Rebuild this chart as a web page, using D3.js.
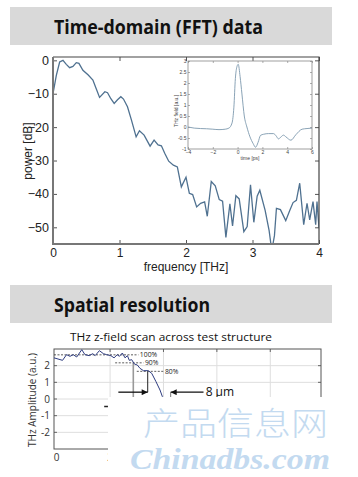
<!DOCTYPE html>
<html><head><meta charset="utf-8">
<script src="https://cdn.jsdelivr.net/npm/d3@7"></script>
<style>
html,body{margin:0;padding:0;background:#fff;}
svg{display:block;}
</style></head>
<body>
<svg id="c" width="358" height="477"></svg>
<script>
// ---------- data ----------
const titleTop = "Time-domain (FFT) data";
const titleBottom = "Spatial resolution";
const scanTitle = "THz z-field scan across test structure";

const fftFreq = [0,0.05,0.1,0.15,0.2,0.25,0.3,0.35,0.39,0.45,0.53,0.6,0.65,0.7,0.78,0.82,0.87,0.92,0.97,1.02,1.06,1.12,1.18,1.25,1.3,1.37,1.46,1.52,1.58,1.63,1.68,1.74,1.81,1.87,1.93,2.0,2.05,2.1,2.16,2.22,2.28,2.32,2.38,2.44,2.5,2.55,2.6,2.66,2.7,2.75,2.8,2.87,2.92,2.97,3.02,3.07,3.11,3.19,3.25,3.29,3.33,3.36,3.42,3.5,3.56,3.61,3.66,3.71,3.77,3.82,3.86,3.91,3.95,3.97,4.0];
const fftPower = [-10,-4.5,-0.5,0,-1.2,-2.2,-1.8,-0.7,-0.9,-3,-4.4,-5.9,-8.5,-11.1,-9.4,-9.7,-11.5,-12.9,-11.8,-10.9,-11.6,-13.9,-17.9,-22.9,-21.1,-22.4,-25.7,-23.9,-25.3,-25.6,-27.8,-30.2,-31.4,-31.9,-37.9,-35,-39.8,-40.2,-43.9,-42.8,-42.4,-46.7,-36.3,-37.6,-41.7,-42.2,-53,-43,-49.6,-40.5,-41.5,-51.3,-49.8,-37.3,-48.5,-40.7,-38.9,-44.9,-51,-57,-52.5,-44.3,-44.7,-48,-45,-42.6,-41.9,-36.8,-49.2,-42.8,-47.8,-42.3,-49.2,-42.3,-50.2];
const fftXTicks = [0,1,2,3,4];
const fftYTicks = [0,-10,-20,-30,-40,-50];

const pulseTime = [-4,-3.5,-3,-2.5,-2,-1.5,-1,-0.7,-0.45,-0.3,-0.18,-0.05,0.05,0.2,0.35,0.54,0.75,1.0,1.25,1.45,1.65,1.85,2.1,2.5,2.9,3.1,3.3,3.5,3.7,3.9,4.3,4.7,5.2,5.6,6];
const pulseField = [0,-0.05,-0.07,-0.08,-0.1,-0.12,-0.1,-0.05,0.18,0.9,2.2,2.75,2.85,2.3,1.5,0.5,0,-0.45,-0.75,-0.92,-0.7,-0.38,-0.33,-0.3,-0.3,-0.4,-0.54,-0.45,-0.37,-0.45,-0.6,-0.35,-0.1,-0.07,-0.05];
const insetXTicks = [-4,-2,0,2,4,6];
const insetYTicks = [-1,-0.5,0,0.5,1,1.5,2,2.5,3];

const scanPos = [-0.1,0.22,0.37,0.5,0.62,0.75,0.94,1.06,1.22,1.35,1.44,1.6,1.75,1.87,2.03,2.15,2.27,2.35,2.46,2.56,2.65,2.72,2.81,2.91,3.02,3.12,3.25,3.43,3.56,3.72,3.87,3.96,4.05];
const scanAmp = [2.47,2.32,2.66,2.56,2.66,2.52,2.96,2.66,2.6,2.72,2.6,2.9,2.72,2.66,2.6,2.47,2.66,2.56,2.76,2.47,2.6,2.32,2.36,2.1,2.04,1.84,1.7,1.7,1.54,1.04,0.54,0.14,-0.3];
const scanGridX = [2,4,6,8];
const scanXLabels = [0,2];
const scanYTicks = [-2,-1,0,1,2];
const levelLabels = ["100%","90%","80%"];
const levelValues = [2.65,2.17,1.66];
const levelFrom = [-0.1,2.19,3.0];
const levelTo = [3.06,3.25,4.0];
const widthLabel = "8 µm";
const watermarkCn = "产品信息网";
const watermarkEn = "Chinadbs.com";

// ---------- drawing ----------
const svg = d3.select("#c");
svg.append("defs").html(`
  <marker id="ah" viewBox="0 0 10 10" refX="10" refY="5" markerWidth="8" markerHeight="6" markerUnits="userSpaceOnUse" orient="auto">
    <path d="M0,0 L10,5 L0,10 z" fill="#111"/></marker>
  <clipPath id="mainClip"><rect x="53" y="57" width="266" height="187"/></clipPath>
  <clipPath id="insetClip"><rect x="188" y="61" width="124" height="88"/></clipPath>
  <clipPath id="scanClip"><rect x="54" y="349" width="267" height="100"/></clipPath>`);

function banner(y, h, text, tl) {
  svg.append("rect").attr("x",10).attr("y",y).attr("width",322).attr("height",h).attr("fill","#d9d9d9");
  svg.append("text").attr("x",54).attr("y",y+26.5).text(text)
    .attr("font-family","'Open Sans', sans-serif").attr("font-weight","bold").attr("font-size",19)
    .attr("fill","#111").attr("textLength",tl).attr("lengthAdjust","spacingAndGlyphs");
}
banner(7, 38, titleTop, 209);
banner(285, 38, titleBottom, 156);

// ---- main FFT chart ----
const x = d3.scaleLinear([0,4],[53,319]);
const y = d3.scaleLinear([-55,1],[244,57]);
const axFont = "'Liberation Sans', Arial, sans-serif";
const g = svg.append("g");

function styleAxis(sel, fs) {
  sel.select(".domain").remove();
  sel.selectAll(".tick line").attr("stroke","#555").attr("stroke-width",1);
  sel.selectAll("text").attr("font-family",axFont).attr("font-size",fs).attr("fill","#222");
}
g.append("g").attr("transform","translate(0,244)")
  .call(d3.axisBottom(x).tickValues(fftXTicks).tickSize(-4).tickPadding(4).tickFormat(d3.format("d")))
  .call(s=>styleAxis(s,12));
g.append("g").attr("transform","translate(53,0)")
  .call(d3.axisLeft(y).tickValues(fftYTicks).tickSize(-4).tickPadding(4).tickFormat(d3.format("d")))
  .call(s=>styleAxis(s,12.5));
g.append("g").attr("transform","translate(0,57)")
  .call(d3.axisTop(x).tickValues(fftXTicks).tickSize(-4).tickFormat(""))
  .call(s=>styleAxis(s,12));
g.append("g").attr("transform","translate(319,0)")
  .call(d3.axisRight(y).tickValues(fftYTicks).tickSize(-4).tickFormat(""))
  .call(s=>styleAxis(s,12));

const fftLine = d3.line().x((d,i)=>x(fftFreq[i])).y((d,i)=>y(fftPower[i]));
g.append("path").datum(fftPower).attr("d",fftLine).attr("fill","none")
  .attr("stroke","#4f7190").attr("stroke-width",1.3).attr("clip-path","url(#mainClip)");

// frame
g.append("path").attr("d",`M53,57 H319 V244`).attr("fill","none").attr("stroke","#444").attr("stroke-width",1.2);
g.append("path").attr("d",`M53,57 V244 H319`).attr("fill","none").attr("stroke","#777").attr("stroke-width",2);

g.append("text").attr("x",186).attr("y",270.5).attr("text-anchor","middle").text("frequency [THz]")
  .attr("font-family",axFont).attr("font-size",12).attr("fill","#222");
g.append("text").attr("transform","translate(32,151) rotate(-90)").attr("text-anchor","middle").text("power [dB]")
  .attr("font-family",axFont).attr("font-size",12).attr("fill","#222");

// ---- inset ----
const xi = d3.scaleLinear([-4,6],[188,312]);
const yi = d3.scaleLinear([-1,3],[149,61]);
const gi = svg.append("g");
gi.append("rect").attr("x",188).attr("y",61).attr("width",124).attr("height",88).attr("fill","#fff");
function styleInset(sel) {
  sel.select(".domain").remove();
  sel.selectAll(".tick line").attr("stroke","#777").attr("stroke-width",0.6);
  sel.selectAll("text").attr("font-family",axFont).attr("font-size",5).attr("fill","#444");
}
gi.append("g").attr("transform","translate(0,149)")
  .call(d3.axisBottom(xi).tickValues(insetXTicks).tickSize(-2).tickPadding(1.5).tickFormat(d3.format("d"))).call(styleInset);
gi.append("g").attr("transform","translate(188,0)")
  .call(d3.axisLeft(yi).tickValues(insetYTicks).tickSize(-2).tickPadding(1.5).tickFormat(d=>d)).call(styleInset);
gi.append("g").attr("transform","translate(0,61)")
  .call(d3.axisTop(xi).tickValues(insetXTicks).tickSize(-2).tickFormat("")).call(styleInset);
gi.append("g").attr("transform","translate(312,0)")
  .call(d3.axisRight(yi).tickValues(insetYTicks).tickSize(-2).tickFormat("")).call(styleInset);
const pulseLine = d3.line().curve(d3.curveMonotoneX).x((d,i)=>xi(pulseTime[i])).y((d,i)=>yi(pulseField[i]));
gi.append("path").datum(pulseField).attr("d",pulseLine).attr("fill","none")
  .attr("stroke","#7d98ae").attr("stroke-width",0.9).attr("clip-path","url(#insetClip)");
gi.append("rect").attr("x",188).attr("y",61).attr("width",124).attr("height",88).attr("fill","none")
  .attr("stroke","#888").attr("stroke-width",0.8);
gi.append("text").attr("x",250).attr("y",160).attr("text-anchor","middle").text("time [ps]")
  .attr("font-family",axFont).attr("font-size",5).attr("fill","#444");
gi.append("text").attr("transform","translate(178,111) rotate(-90)").attr("text-anchor","middle").text("THz field [a.u.]")
  .attr("font-family",axFont).attr("font-size",5).attr("fill","#444");

// ---- spatial resolution chart ----
svg.append("text").attr("x",70).attr("y",340.5).text(scanTitle)
  .attr("font-family","'Open Sans', sans-serif").attr("font-size",11.5).attr("fill","#111")
  .attr("textLength",202).attr("lengthAdjust","spacingAndGlyphs");

const xs = d3.scaleLinear([-0.1,9.9],[54,321]);
const ys = d3.scaleLinear([-3,3],[449,349]);
const gs = svg.append("g");
gs.selectAll(".vg").data(scanGridX).join("line")
  .attr("x1",d=>xs(d)).attr("x2",d=>xs(d)).attr("y1",349).attr("y2",449).attr("stroke","#dedede").attr("stroke-width",1);
gs.selectAll(".hg").data(scanYTicks).join("line")
  .attr("x1",54).attr("x2",321).attr("y1",d=>ys(d)).attr("y2",d=>ys(d)).attr("stroke","#dedede").attr("stroke-width",1);
// ticks
gs.selectAll(".rt").data(scanYTicks).join("line")
  .attr("x1",318).attr("x2",321).attr("y1",d=>ys(d)).attr("y2",d=>ys(d)).attr("stroke","#666");
gs.selectAll(".lt").data(scanYTicks).join("line")
  .attr("x1",54).attr("x2",57).attr("y1",d=>ys(d)).attr("y2",d=>ys(d)).attr("stroke","#666");
gs.selectAll(".tt").data(scanGridX).join("line")
  .attr("x1",d=>xs(d)).attr("x2",d=>xs(d)).attr("y1",349).attr("y2",352).attr("stroke","#666");
gs.append("rect").attr("x",54).attr("y",349).attr("width",267).attr("height",100)
  .attr("fill","none").attr("stroke","#555").attr("stroke-width",1);
gs.selectAll(".yl").data(scanYTicks).join("text")
  .attr("x",50).attr("y",d=>ys(d)+3.5).attr("text-anchor","end").text(d=>d)
  .attr("font-family","'Open Sans', sans-serif").attr("font-size",10).attr("fill","#333");
gs.selectAll(".xl").data(scanXLabels).join("text")
  .attr("x",d=>xs(d)).attr("y",461).attr("text-anchor","middle").text(d=>d)
  .attr("font-family","'Open Sans', sans-serif").attr("font-size",10).attr("fill","#333");
gs.append("text").attr("transform","translate(36,400) rotate(-90)").attr("text-anchor","middle")
  .text("THz Amplitude (a.u.)").attr("font-family","'Open Sans', sans-serif").attr("font-size",10).attr("fill","#333");

// level lines
levelValues.forEach((v,i)=>{
  gs.append("line").attr("x1",xs(levelFrom[i])).attr("x2",xs(levelTo[i])).attr("y1",ys(v)).attr("y2",ys(v))
    .attr("stroke","#333").attr("stroke-width",0.8).attr("stroke-dasharray","2,1.5");
  gs.append("text").attr("x",xs(levelTo[i])+1.5).attr("y",ys(v)+2.4).text(levelLabels[i])
    .attr("font-family","'Open Sans', sans-serif").attr("font-size",6.8).attr("fill","#222");
});
// verticals
gs.append("line").attr("x1",xs(2.87)).attr("x2",xs(2.87)).attr("y1",ys(levelValues[1])).attr("y2",ys(-0.5))
  .attr("stroke","#999").attr("stroke-width",1.6);
gs.append("line").attr("x1",xs(3.41)).attr("x2",xs(3.41)).attr("y1",ys(levelValues[2])).attr("y2",ys(0.41))
  .attr("stroke","#222").attr("stroke-width",1);

const scanLine = d3.line().x((d,i)=>xs(scanPos[i])).y((d,i)=>ys(scanAmp[i]));
gs.append("path").datum(scanAmp).attr("d",scanLine).attr("fill","none")
  .attr("stroke","#2e3c80").attr("stroke-width",1).attr("clip-path","url(#scanClip)");

// arrows
gs.append("line").attr("x1",xs(2.31)).attr("x2",xs(3.41)).attr("y1",ys(0.41)).attr("y2",ys(0.41))
  .attr("stroke","#111").attr("stroke-width",1.3).attr("marker-end","url(#ah)");
gs.append("line").attr("x1",xs(5.5)).attr("x2",xs(4.27)).attr("y1",ys(0.41)).attr("y2",ys(0.41))
  .attr("stroke","#111").attr("stroke-width",1.3).attr("marker-end","url(#ah)");
gs.append("line").attr("x1",xs(4.27)).attr("x2",xs(4.27)).attr("y1",ys(0.41)).attr("y2",ys(0)).attr("stroke","#555").attr("stroke-width",0.8);
gs.append("text").attr("x",xs(5.58)).attr("y",ys(0.41)+3.5).text(widthLabel)
  .attr("font-family","'Open Sans', sans-serif").attr("font-size",12).attr("fill","#111");
gs.append("line").attr("x1",xs(1.78)).attr("x2",xs(1.92)).attr("y1",ys(-0.45)).attr("y2",ys(-0.45))
  .attr("stroke","#222").attr("stroke-width",1.5);

// watermark box
svg.append("rect").attr("x",108).attr("y",397).attr("width",250).attr("height",80).attr("fill","#fff");
svg.append("text").attr("x",143).attr("y",435).text(watermarkCn)
  .attr("font-family","'Noto Sans CJK SC', sans-serif").attr("font-weight",300).attr("font-size",32)
  .attr("fill","#c3daf0").attr("textLength",185).attr("lengthAdjust","spacingAndGlyphs");
svg.append("text").attr("x",130).attr("y",469).text(watermarkEn)
  .attr("font-family","'Liberation Serif', serif").attr("font-weight","bold").attr("font-style","italic").attr("font-size",30)
  .attr("fill","#c3daf0").attr("textLength",200).attr("lengthAdjust","spacingAndGlyphs");
</script>
</body></html>
